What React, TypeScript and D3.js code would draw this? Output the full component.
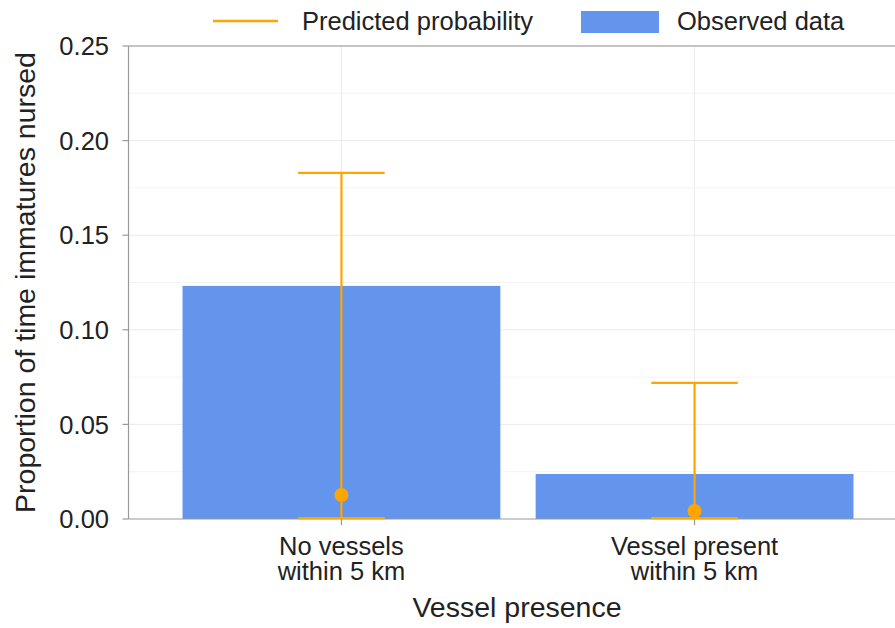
import React from "react";
import * as d3 from "d3";

const categories = ["No vessels\nwithin 5 km", "Vessel present\nwithin 5 km"];
const observed = [0.1232, 0.0238];
const predicted = [0.0127, 0.0042];
const lower = [0.0005, 0.0005];
const upper = [0.1829, 0.0719];
const yTicks = [0, 0.05, 0.1, 0.15, 0.2, 0.25];
const yMinor = [0.025, 0.075, 0.125, 0.175, 0.225];

const W = 895, H = 628;
const left = 128.5, top = 46, bottom = 519;
const FONT = "'Liberation Sans', Arial, sans-serif";
const BLUE = "#6495ED";
const ORANGE = "#FFA500";
const TICK = 25.5;
const TITLE = 28.5;

export default function App() {
  const x = d3.scaleLinear().domain([-0.603, 1.603]).range([left, 907.5]);
  const y = d3.scaleLinear().domain([0, 0.25]).range([bottom, top]);
  const barW = x(0.9) - x(0);
  const capW = x(0.245) - x(0);
  const idx = categories.map((_, i) => i);
  return (
    <svg width={W} height={H} style={{ position: "absolute", left: 0, top: 0, background: "#fff" }} fontFamily={FONT}>
      <rect width={W} height={H} fill="#fff" />
      {yMinor.map((t) => (
        <line key={"m" + t} x1={left} x2={W} y1={y(t)} y2={y(t)} stroke="#f4f4f4" strokeWidth={1} />
      ))}
      {yTicks.slice(1, -1).map((t) => (
        <line key={"g" + t} x1={left} x2={W} y1={y(t)} y2={y(t)} stroke="#ebebeb" strokeWidth={1} />
      ))}
      {idx.map((i) => (
        <line key={"v" + i} x1={x(i)} x2={x(i)} y1={top} y2={bottom} stroke="#ebebeb" strokeWidth={1} />
      ))}
      {idx.map((i) => (
        <rect key={"b" + i} x={x(i) - barW / 2} width={barW} y={y(observed[i])} height={y(0) - y(observed[i])} fill={BLUE} />
      ))}
      <line x1={left} x2={W} y1={top} y2={top} stroke="#b0b0b0" strokeWidth={1.5} />
      <line x1={left} x2={W} y1={bottom} y2={bottom} stroke="#999" strokeWidth={1.2} />
      <line x1={left} x2={left} y1={top} y2={bottom} stroke="#999" strokeWidth={1.2} />
      {yTicks.map((t) => (
        <g key={"t" + t}>
          <line x1={left - 6} x2={left} y1={y(t)} y2={y(t)} stroke="#999" strokeWidth={1.2} />
          <text x={109} y={y(t)} dy="0.36em" textAnchor="end" fontSize={TICK} fill="#222">
            {d3.format(".2f")(t)}
          </text>
        </g>
      ))}
      {idx.map((i) => (
        <g key={"xt" + i}>
          <line x1={x(i)} x2={x(i)} y1={bottom} y2={bottom + 6} stroke="#999" strokeWidth={1.2} />
          <text x={x(i)} y={555} textAnchor="middle" fontSize={TICK} fill="#222">
            {categories[i].split("\n").map((s, k) => (
              <tspan key={k} x={x(i)} dy={k === 0 ? 0 : 25}>
                {s}
              </tspan>
            ))}
          </text>
        </g>
      ))}
      {idx.map((i) => (
        <g key={"e" + i} stroke={ORANGE} strokeWidth={2.2}>
          <line x1={x(i)} x2={x(i)} y1={y(upper[i])} y2={y(lower[i])} />
          <line x1={x(i) - capW / 2} x2={x(i) + capW / 2} y1={y(upper[i])} y2={y(upper[i])} />
          <line x1={x(i) - capW / 2} x2={x(i) + capW / 2} y1={y(lower[i])} y2={y(lower[i])} />
          <circle cx={x(i)} cy={y(predicted[i])} r={7} fill={ORANGE} stroke="none" />
        </g>
      ))}
      <text x={517} y={617} textAnchor="middle" fontSize={TITLE} fill="#222">Vessel presence</text>
      <text transform={`translate(35,${(top + bottom) / 2}) rotate(-90)`} textAnchor="middle" fontSize={TITLE} fill="#222">
        Proportion of time immatures nursed
      </text>
      <line x1={213} x2={278} y1={21} y2={21} stroke={ORANGE} strokeWidth={2.5} />
      <text x={302} y={30} fontSize={TICK} fill="#222">Predicted probability</text>
      <rect x={581} y={11} width={78} height={22} fill={BLUE} />
      <text x={677} y={30} fontSize={TICK} fill="#222">Observed data</text>
    </svg>
  );
}
